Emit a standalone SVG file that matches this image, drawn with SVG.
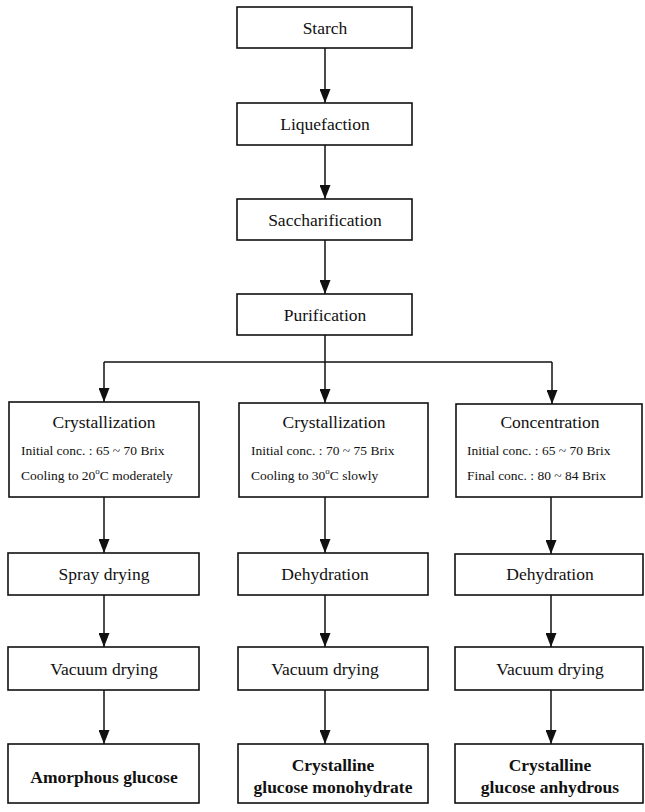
<svg xmlns="http://www.w3.org/2000/svg" width="645" height="812" viewBox="0 0 645 812">
<style>
.box{fill:#fff;stroke:#111;stroke-width:1.6}
.t{font-size:17.5px;text-anchor:middle}
.s{font-size:13.5px}
.b{font-size:17.5px;font-weight:bold;text-anchor:middle}
.c{fill:none;stroke:#111;stroke-width:1.5}
</style>
<defs>
<marker id="ah" markerUnits="userSpaceOnUse" viewBox="0 0 14 11" refX="14" refY="5.5" markerWidth="14" markerHeight="11" orient="auto">
<path d="M0,0 L14,5.5 L0,11 z" fill="#111"/>
</marker>
</defs>
<rect width="645" height="812" fill="#fff"/>
<g id="connectors">
<path class="c" d="M325,48 V103" marker-end="url(#ah)" stroke-width="2"/>
<path class="c" d="M325,145 V199" marker-end="url(#ah)"/>
<path class="c" d="M325,240 V294" marker-end="url(#ah)" stroke-width="2"/>
<path class="c" d="M325,335 V362"/>
<path class="c" d="M104,362 H552"/>
<path class="c" d="M104,362 V402" marker-end="url(#ah)"/>
<path class="c" d="M325,362 V403" marker-end="url(#ah)"/>
<path class="c" d="M552,362 V404" marker-end="url(#ah)"/>
<path class="c" d="M104,497 V553" marker-end="url(#ah)"/>
<path class="c" d="M325,497 V553" marker-end="url(#ah)"/>
<path class="c" d="M551,497 V554" marker-end="url(#ah)"/>
<path class="c" d="M104,595 V647" marker-end="url(#ah)"/>
<path class="c" d="M325,595 V647" marker-end="url(#ah)" stroke-width="2"/>
<path class="c" d="M551,595 V647" marker-end="url(#ah)"/>
<path class="c" d="M104,690 V744" marker-end="url(#ah)"/>
<path class="c" d="M325,690 V744" marker-end="url(#ah)" stroke-width="2"/>
<path class="c" d="M551,690 V744" marker-end="url(#ah)"/>
</g>
<g font-family="Liberation Serif, Times New Roman, serif" fill="#111">
<g id="starch"><rect class="box" x="237" y="7" width="175" height="41"/><text class="t" x="325" y="34">Starch</text></g>
<g id="liquefaction"><rect class="box" x="237" y="103" width="175" height="42"/><text class="t" x="325" y="130">Liquefaction</text></g>
<g id="saccharification"><rect class="box" x="237" y="199" width="175" height="41"/><text class="t" x="325" y="226">Saccharification</text></g>
<g id="purification"><rect class="box" x="237" y="294" width="175" height="41"/><text class="t" x="325" y="321">Purification</text></g>
<g id="cryst1"><rect class="box" x="9" y="402" width="190" height="95"/>
<text class="t" x="104" y="428">Crystallization</text>
<text class="s" x="21" y="455">Initial conc. : 65 ~ 70 Brix</text>
<text class="s" x="21" y="480">Cooling to 20<tspan font-size="9" dy="-6">o</tspan><tspan dy="6">C moderately</tspan></text></g>
<g id="cryst2"><rect class="box" x="239" y="403" width="189" height="94"/>
<text class="t" x="334" y="428">Crystallization</text>
<text class="s" x="251" y="455">Initial conc. : 70 ~ 75 Brix</text>
<text class="s" x="251" y="480">Cooling to 30<tspan font-size="9" dy="-6">o</tspan><tspan dy="6">C slowly</tspan></text></g>
<g id="concentration"><rect class="box" x="456" y="404" width="186" height="93"/>
<text class="t" x="550" y="428">Concentration</text>
<text class="s" x="467" y="455">Initial conc. : 65 ~ 70 Brix</text>
<text class="s" x="467" y="480">Final conc. : 80 ~ 84 Brix</text></g>
<g id="spray"><rect class="box" x="8" y="553" width="191" height="42"/><text class="t" x="104" y="580">Spray drying</text></g>
<g id="dehyd2"><rect class="box" x="238" y="553" width="190" height="42"/><text class="t" x="325" y="580">Dehydration</text></g>
<g id="dehyd3"><rect class="box" x="455" y="554" width="188" height="41"/><text class="t" x="550" y="580">Dehydration</text></g>
<g id="vac1"><rect class="box" x="8" y="647" width="191" height="43"/><text class="t" x="104" y="675">Vacuum drying</text></g>
<g id="vac2"><rect class="box" x="238" y="647" width="190" height="43"/><text class="t" x="325" y="675">Vacuum drying</text></g>
<g id="vac3"><rect class="box" x="455" y="647" width="188" height="43"/><text class="t" x="550" y="675">Vacuum drying</text></g>
<g id="amorphous"><rect class="box" x="8" y="744" width="191" height="59"/><text class="b" x="104" y="783">Amorphous glucose</text></g>
<g id="monohydrate"><rect class="box" x="238" y="744" width="190" height="59"/><text class="b" x="333" y="771">Crystalline</text><text class="b" x="333" y="793">glucose monohydrate</text></g>
<g id="anhydrous"><rect class="box" x="455" y="744" width="188" height="59"/><text class="b" x="550" y="771">Crystalline</text><text class="b" x="550" y="793">glucose anhydrous</text></g>
</g>
</svg>
